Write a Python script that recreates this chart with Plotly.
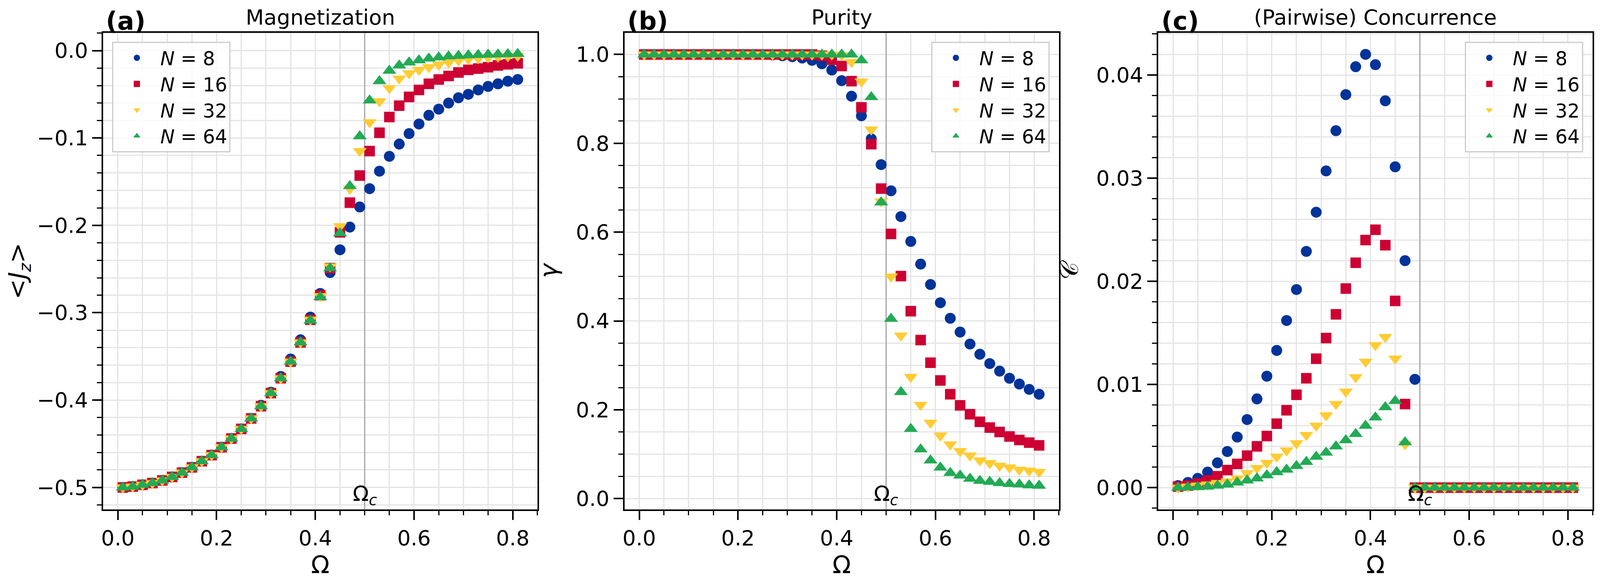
import plotly.graph_objects as go
from plotly.subplots import make_subplots

# x grid (Omega)
omega = [0.01, 0.03, 0.05, 0.07, 0.09, 0.11, 0.13, 0.15, 0.17, 0.19,
         0.21, 0.23, 0.25, 0.27, 0.29, 0.31, 0.33, 0.35, 0.37, 0.39,
         0.41, 0.43, 0.45, 0.47, 0.49, 0.51, 0.53, 0.55, 0.57, 0.59,
         0.61, 0.63, 0.65, 0.67, 0.69, 0.71, 0.73, 0.75, 0.77, 0.79, 0.81]
omega_c = 0.5

# (a) magnetization <Jz>
mag_n8 = [-0.500, -0.499, -0.497, -0.495, -0.492, -0.488, -0.483, -0.477, -0.470, -0.463,
          -0.454, -0.444, -0.433, -0.421, -0.406, -0.391, -0.373, -0.353, -0.331, -0.305,
          -0.278, -0.254, -0.228, -0.202, -0.179, -0.158, -0.138, -0.121, -0.107, -0.095,
          -0.084, -0.074, -0.067, -0.060, -0.054, -0.050, -0.045, -0.041, -0.038, -0.035, -0.033]
mag_n16 = [-0.500, -0.499, -0.497, -0.495, -0.492, -0.488, -0.483, -0.477, -0.470, -0.463,
           -0.454, -0.444, -0.433, -0.421, -0.407, -0.392, -0.375, -0.356, -0.334, -0.308,
           -0.280, -0.249, -0.208, -0.174, -0.143, -0.115, -0.094, -0.076, -0.063, -0.053,
           -0.045, -0.038, -0.033, -0.029, -0.025, -0.022, -0.0205, -0.019, -0.017, -0.0156, -0.0145]
mag_n32 = [-0.500, -0.499, -0.497, -0.495, -0.492, -0.488, -0.483, -0.477, -0.470, -0.463,
           -0.454, -0.444, -0.433, -0.421, -0.407, -0.392, -0.375, -0.356, -0.334, -0.308,
           -0.281, -0.247, -0.201, -0.158, -0.115, -0.082, -0.058, -0.043, -0.032, -0.026,
           -0.022, -0.019, -0.016, -0.0135, -0.0113, -0.0098, -0.0088, -0.0077, -0.0070, -0.0064, -0.0060]
mag_n64 = [-0.500, -0.499, -0.497, -0.495, -0.492, -0.488, -0.483, -0.477, -0.470, -0.463,
           -0.454, -0.444, -0.433, -0.421, -0.407, -0.392, -0.375, -0.356, -0.334, -0.309,
           -0.282, -0.249, -0.209, -0.155, -0.098, -0.057, -0.035, -0.023, -0.017, -0.0135,
           -0.011, -0.009, -0.0077, -0.0066, -0.0060, -0.0053, -0.0049, -0.0045, -0.0043, -0.0040, -0.0038]

# (b) purity gamma
pur_n8 = [1.0, 1.0, 1.0, 1.0, 1.0, 1.0, 1.0, 1.0, 1.0, 1.0,
          1.0, 1.0, 1.0, 0.999, 0.997, 0.995, 0.992, 0.987, 0.979, 0.965,
          0.941, 0.906, 0.862, 0.810, 0.752, 0.693, 0.635, 0.579, 0.528, 0.482,
          0.441, 0.406, 0.375, 0.348, 0.325, 0.304, 0.287, 0.271, 0.258, 0.246, 0.235]
pur_n16 = [1.0, 1.0, 1.0, 1.0, 1.0, 1.0, 1.0, 1.0, 1.0, 1.0,
           1.0, 1.0, 1.0, 1.0, 1.0, 1.0, 1.0, 1.0, 0.997, 0.988,
           0.974, 0.940, 0.881, 0.798, 0.698, 0.596, 0.501, 0.422, 0.357, 0.306,
           0.266, 0.235, 0.210, 0.190, 0.173, 0.160, 0.150, 0.140, 0.132, 0.126, 0.120]
pur_n32 = [1.0, 1.0, 1.0, 1.0, 1.0, 1.0, 1.0, 1.0, 1.0, 1.0,
           1.0, 1.0, 1.0, 1.0, 1.0, 1.0, 1.0, 1.0, 1.0, 1.0,
           0.998, 0.983, 0.939, 0.831, 0.669, 0.500, 0.367, 0.274, 0.211, 0.171,
           0.142, 0.122, 0.107, 0.097, 0.086, 0.080, 0.074, 0.070, 0.065, 0.063, 0.060]
pur_n64 = [1.0, 1.0, 1.0, 1.0, 1.0, 1.0, 1.0, 1.0, 1.0, 1.0,
           1.0, 1.0, 1.0, 1.0, 1.0, 1.0, 1.0, 1.0, 1.0, 1.0,
           1.0, 1.0, 0.987, 0.904, 0.667, 0.405, 0.240, 0.157, 0.111, 0.086,
           0.070, 0.058, 0.052, 0.045, 0.040, 0.038, 0.035, 0.033, 0.032, 0.030, 0.029]

# (c) pairwise concurrence
conc_n8 = [0.0002, 0.0005, 0.0009, 0.0015, 0.0024, 0.0035, 0.0049, 0.0066, 0.0086, 0.0108,
           0.0133, 0.0162, 0.0192, 0.0229, 0.0267, 0.0307, 0.0346, 0.0381, 0.0408, 0.0420,
           0.0410, 0.0375, 0.0311, 0.0220, 0.0105, 0.0, 0.0, 0.0, 0.0, 0.0,
           0.0, 0.0, 0.0, 0.0, 0.0, 0.0, 0.0, 0.0, 0.0, 0.0, 0.0]
conc_n16 = [0.0001, 0.0002, 0.0004, 0.0007, 0.0011, 0.0017, 0.0023, 0.0031, 0.0040, 0.0050,
            0.0062, 0.0075, 0.0090, 0.0106, 0.0125, 0.0145, 0.0168, 0.0193, 0.0218, 0.0240,
            0.0250, 0.0235, 0.0181, 0.0081, 0.0, 0.0, 0.0, 0.0, 0.0, 0.0,
            0.0, 0.0, 0.0, 0.0, 0.0, 0.0, 0.0, 0.0, 0.0, 0.0, 0.0]
conc_n32 = [0.0, 0.0001, 0.0002, 0.0003, 0.00045, 0.0006, 0.0009, 0.0014, 0.0019, 0.0024,
            0.0030, 0.0036, 0.0043, 0.0051, 0.0060, 0.0070, 0.0081, 0.0093, 0.0107, 0.0122,
            0.0138, 0.0146, 0.0125, 0.0042, 0.0, 0.0, 0.0, 0.0, 0.0, 0.0,
            0.0, 0.0, 0.0, 0.0, 0.0, 0.0, 0.0, 0.0, 0.0, 0.0, 0.0]
conc_n64 = [0.0, 0.00003, 0.00005, 0.0001, 0.0002, 0.0003, 0.0005, 0.0007, 0.0009, 0.0012,
            0.0015, 0.00175, 0.0021, 0.0025, 0.0030, 0.0034, 0.0040, 0.0046, 0.0052, 0.0060,
            0.0068, 0.0078, 0.0084, 0.0044, 0.0, 0.0, 0.0, 0.0, 0.0, 0.0,
            0.0, 0.0, 0.0, 0.0, 0.0, 0.0, 0.0, 0.0, 0.0, 0.0, 0.0]

n_labels = ['8', '16', '32', '64']
colors = ['#003399', '#cc0033', '#ffcc33', '#22aa55']
symbols = ['circle', 'square', 'triangle-down', 'triangle-up']
msizes = [28, 27, 31, 31]

y_ranges = [[-0.525, 0.0205], [-0.024, 1.049], [-0.0021, 0.0441]]

panels = [
    ([mag_n8, mag_n16, mag_n32, mag_n64], 'legend'),
    ([pur_n8, pur_n16, pur_n32, pur_n64], 'legend2'),
    ([conc_n8, conc_n16, conc_n32, conc_n64], 'legend3'),
]

FONT = 'DejaVu Sans'
H = 1484  # page = figure + 8px body margin top and bottom


def fx(px):
    # horizontal pixel of the 4500-wide reference -> paper fraction
    return px / 4500


def fy(py):
    # vertical pixel of the 1500-high reference -> paper fraction
    return 1 - (py - 8) / H


fig = make_subplots(rows=1, cols=3)

for col, (series, leg) in enumerate(panels, start=1):
    # vertical line at the critical coupling, under the markers
    fig.add_trace(go.Scatter(x=[omega_c, omega_c], y=y_ranges[col - 1], mode='lines',
                             line=dict(color='#a6a6a6', width=3), showlegend=False,
                             hoverinfo='skip'), row=1, col=col)
    for k, ys in enumerate(series):
        fig.add_trace(go.Scatter(
            x=omega, y=ys, mode='markers', name='<i>N</i> = ' + n_labels[k],
            marker=dict(symbol=symbols[k], size=msizes[k], color=colors[k], line=dict(width=0)),
            legend=leg, showlegend=True), row=1, col=col)

xdom = [[fx(277), fx(1505)], [fx(1751), fx(2979)], [fx(3260), fx(4488)]]
ydom = [fy(1308), fy(84)]

grid_c = '#e4e4e4'
common = dict(showline=True, mirror=True, linecolor='black', linewidth=3.5,
              ticks='outside', ticklen=24, tickwidth=4, tickcolor='black',
              showgrid=True, gridcolor=grid_c, gridwidth=3, zeroline=False,
              tickfont=dict(size=54, color='black', family=FONT))

for i in range(3):
    fig.layout['xaxis' + ('' if i == 0 else str(i + 1))].update(
        domain=xdom[i], range=[-0.03, 0.85], dtick=0.2, tick0=0, tickformat='.1f',
        minor=dict(dtick=0.05, ticks='outside', ticklen=12, tickwidth=3, tickcolor='black',
                   showgrid=True, gridcolor=grid_c, gridwidth=3),
        title=dict(text='Ω', font=dict(size=62, family=FONT, color='black'), standoff=14),
        **common)

fig.update_layout(
    yaxis=dict(domain=ydom, range=y_ranges[0], dtick=0.1, tick0=0, tickformat='.1f',
               minor=dict(dtick=0.02, ticks='outside', ticklen=12, tickwidth=3, tickcolor='black',
                          showgrid=True, gridcolor=grid_c, gridwidth=3),
               title=dict(text='&lt;<i>J<sub>z</sub></i>&gt;', font=dict(size=62, family=FONT, color='black'),
                          standoff=28),
               **common),
    yaxis2=dict(domain=ydom, range=y_ranges[1], dtick=0.2, tick0=0, tickformat='.1f',
                minor=dict(dtick=0.05, ticks='outside', ticklen=12, tickwidth=3, tickcolor='black',
                           showgrid=True, gridcolor=grid_c, gridwidth=3),
                title=dict(text='<i>γ</i>', font=dict(size=62, family=FONT, color='black'), standoff=28),
                **common),
    yaxis3=dict(domain=ydom, range=y_ranges[2], dtick=0.01, tick0=0, tickformat='.2f',
                minor=dict(dtick=0.002, ticks='outside', ticklen=12, tickwidth=3, tickcolor='black',
                           showgrid=True, gridcolor=grid_c, gridwidth=3),
                title=dict(text='𝒞', font=dict(size=62, family=FONT, color='black'), standoff=28),
                **common),
)

leg_common = dict(bgcolor='rgba(255,255,255,0.8)', bordercolor='#cccccc', borderwidth=3,
                  font=dict(size=49, family=FONT, color='black'), itemwidth=110,
                  yanchor='top', y=fy(107), xref='paper', yref='paper')
fig.update_layout(
    legend=dict(x=fx(303), xanchor='left', **leg_common),
    legend2=dict(x=fx(2953), xanchor='right', **leg_common),
    legend3=dict(x=fx(4461), xanchor='right', **leg_common),
)

titles = ['Magnetization', 'Purity', '(Pairwise) Concurrence']
letters = ['(a)', '(b)', '(c)']
for i in range(3):
    xref = 'x' + ('' if i == 0 else str(i + 1))
    fig.add_annotation(x=(xdom[i][0] + xdom[i][1]) / 2, y=fy(45), xref='paper', yref='paper',
                       text=titles[i], showarrow=False, xanchor='center', yanchor='middle',
                       font=dict(size=54, family=FONT, color='black'))
    fig.add_annotation(x=xdom[i][0] + fx(6), y=fy(54), xref='paper', yref='paper',
                       text='<b>' + letters[i] + '</b>', showarrow=False, xanchor='left', yanchor='middle',
                       font=dict(size=64, family=FONT, color='black'))
    fig.add_annotation(x=omega_c, y=ydom[0], xref=xref, yref='paper', text='Ω<sub><i>c</i></sub>',
                       showarrow=False, xanchor='center', yanchor='bottom',
                       font=dict(size=54, family=FONT, color='black'))

# width follows the browser window, height fixed
fig.update_layout(height=H, autosize=True, margin=dict(l=0, r=0, t=0, b=0),
                  plot_bgcolor='white', paper_bgcolor='white',
                  font=dict(family=FONT, color='black'))

fig.write_html('out.html')
